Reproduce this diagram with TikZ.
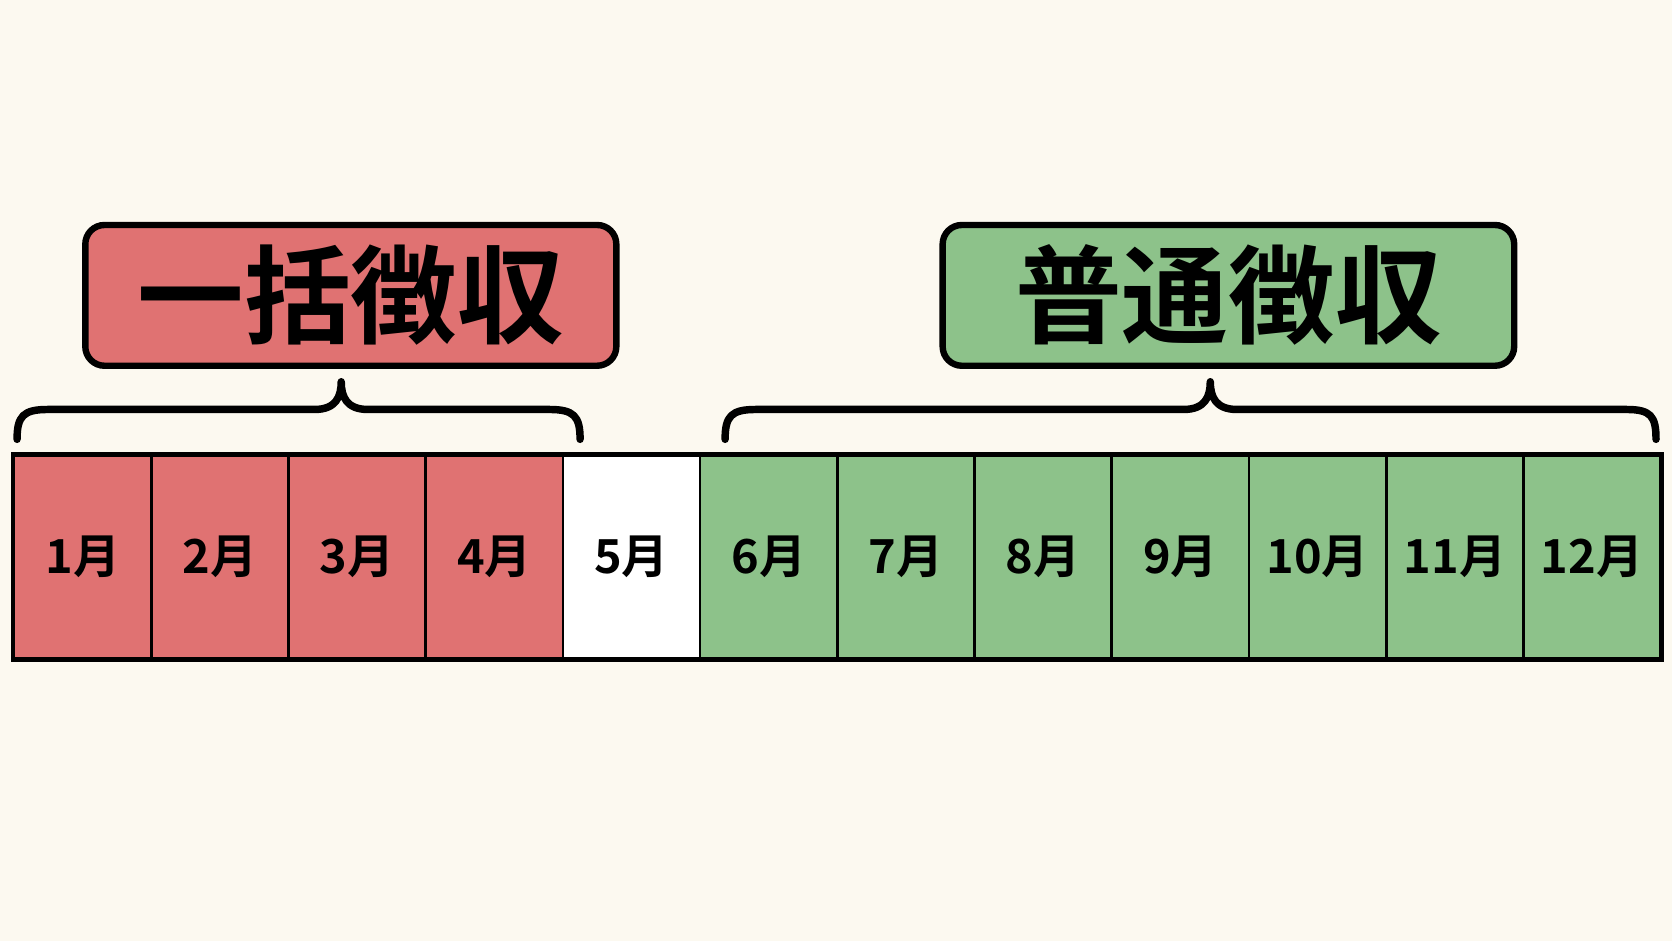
\documentclass[tikz,border=0pt]{standalone}
\usepackage{fontspec}
\newfontfamily\jp{Noto Sans CJK JP Bold}
\definecolor{bg}{HTML}{FCF9F0}
\definecolor{rd}{HTML}{E07272}
\definecolor{gr}{HTML}{8DC28A}
\begin{document}
\begin{tikzpicture}[x=1pt,y=-1pt,
  cell/.style={draw=black,line width=2.5pt,minimum width=128.67pt,minimum height=190pt,inner sep=0pt,font=\jp\fontsize{44}{44}\selectfont},
  lab/.style={draw=black,line width=6pt,rounded corners=18pt,minimum height=132pt,inner sep=0pt,font=\jp\fontsize{100}{100}\selectfont},
  brace/.style={line width=7pt,line cap=round,line join=round}]
\fill[bg] (0,0) rectangle (1568,882);
\useasboundingbox (0,0) rectangle (1568,882);
\foreach \i in {1,...,12}{
  \ifnum\i<5 \def\c{rd}\else\ifnum\i=5 \def\c{white}\else\def\c{gr}\fi\fi
  \node[cell,fill=\c,anchor=north west] (m\i) at ({12+(\i-1)*128.67},426) {\i 月};
}
\draw[line width=4pt] (m1.north west) rectangle (m12.south east);
\node[lab,fill=rd,minimum width=498pt] (a) at (329,277) {一括徴収};
\node[lab,fill=gr,minimum width=536pt] (b) at (1152,277) {普通徴収};
\draw[brace] (16,412) .. controls (16,390) and (22,384) .. (45,384) -- (295,384)
  .. controls (315,384) and (320,372) .. (320,358)
  .. controls (320,372) and (325,384) .. (345,384) -- (515,384)
  .. controls (538,384) and (544,390) .. (544,412);
\draw[brace] (680,412) .. controls (680,390) and (686,384) .. (709,384) -- (1110,384)
  .. controls (1130,384) and (1135,372) .. (1135,358)
  .. controls (1135,372) and (1140,384) .. (1160,384) -- (1525,384)
  .. controls (1548,384) and (1553,390) .. (1553,412);
\end{tikzpicture}
\end{document}
